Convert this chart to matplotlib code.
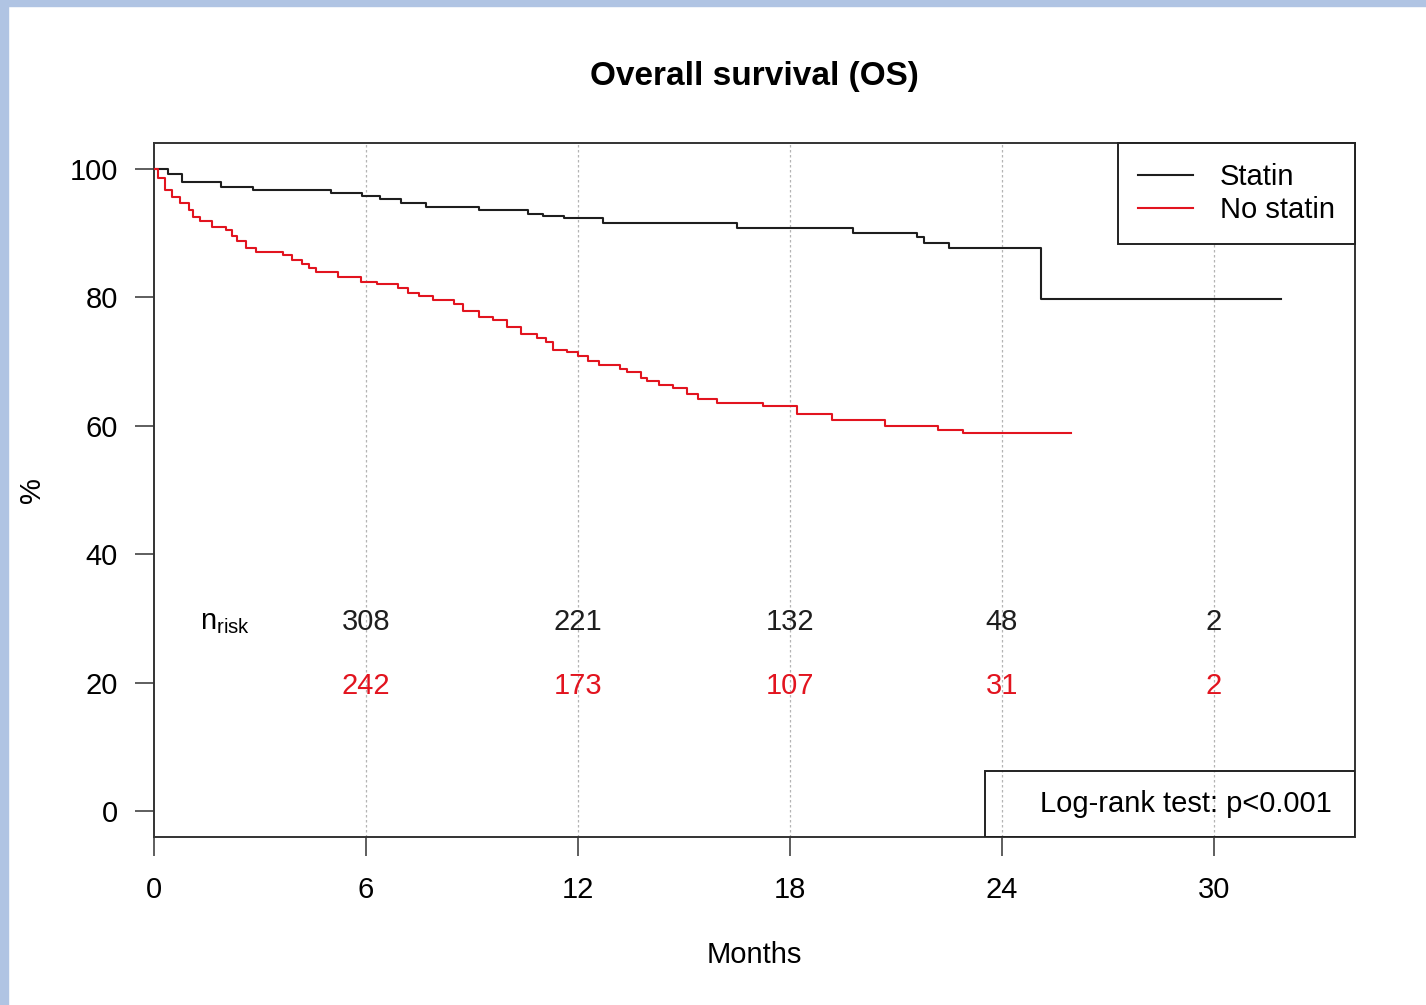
import numpy as np
import matplotlib
matplotlib.use('Agg')
from matplotlib import pyplot as plt
from matplotlib.patches import Rectangle

plt.rcParams['font.family'] = ['Liberation Sans', 'DejaVu Sans']

# Kaplan-Meier steps (months, % surviving)
t_statin = [0, 0.4, 0.8, 1.9, 2.8, 5.0, 5.9, 6.4, 7.0, 7.7, 9.2, 10.6, 11.0, 11.6,
            12.7, 16.5, 19.8, 21.6, 21.8, 22.5, 25.1, 31.9]
s_statin = [100, 99.1, 98.0, 97.2, 96.7, 96.2, 95.8, 95.3, 94.7, 94.1, 93.5, 93.0,
            92.7, 92.4, 91.6, 90.8, 90.0, 89.3, 88.5, 87.7, 79.8, 79.8]

t_nostatin = [0, 0.1, 0.3, 0.5, 0.75, 1.0, 1.1, 1.3, 1.65, 2.05, 2.2, 2.35, 2.6, 2.9,
              3.65, 3.9, 4.2, 4.4, 4.6, 5.2, 5.85, 6.3, 6.9, 7.2, 7.5, 7.9, 8.5, 8.75,
              9.2, 9.6, 10.0, 10.4, 10.85, 11.1, 11.3, 11.7, 12.0, 12.3, 12.6, 13.2,
              13.4, 13.8, 13.95, 14.3, 14.7, 15.1, 15.4, 15.95, 17.25, 18.2, 19.2,
              20.7, 22.2, 22.9, 25.95]
s_nostatin = [100, 98.5, 96.7, 95.6, 94.7, 93.5, 92.5, 91.8, 91.0, 90.5, 89.6, 88.8,
              87.7, 87.1, 86.5, 85.8, 85.2, 84.6, 84.0, 83.2, 82.4, 82.0, 81.5, 80.7,
              80.2, 79.6, 79.0, 77.8, 77.0, 76.5, 75.3, 74.2, 73.7, 73.1, 71.8, 71.4,
              70.8, 70.0, 69.5, 68.9, 68.3, 67.5, 66.9, 66.3, 65.8, 64.9, 64.1, 63.6,
              63.0, 61.9, 60.9, 60.0, 59.4, 58.8, 58.8]

risk_times = [6, 12, 18, 24, 30]
risk_statin = [308, 221, 132, 48, 2]
risk_nostatin = [242, 173, 107, 31, 2]
xticks = [0, 6, 12, 18, 24, 30]
yticks = [0, 20, 40, 60, 80, 100]

RED = '#e2141f'
BLK = '#1e1e1e'
FS = 21

fig = plt.figure(figsize=(14.26, 10.05), dpi=100)
fig.patch.set_facecolor('white')
# slide background strips
fig.add_artist(Rectangle((0, 0), 8/1426, 1, transform=fig.transFigure, color='#b0c4e3', zorder=0))
fig.add_artist(Rectangle((0, 1-6/1005), 1, 6/1005, transform=fig.transFigure, color='#b0c4e3', zorder=0))

ax = fig.add_axes([154/1426, 1-837/1005, (1355-154)/1426, (837-143)/1005])
ax.set_xlim(0, 34); ax.set_ylim(-4, 104)

for x in xticks[1:]:
    ax.axvline(x, color='#b4b4b4', lw=0.9, ls=(0, (2, 2)), zorder=1)

ax.step(t_statin, s_statin, where='post', color=BLK, lw=1.5, label='Statin', zorder=3)
ax.step(t_nostatin, s_nostatin, where='post', color=RED, lw=1.5, label='No statin', zorder=3)

ax.text(2, 30, r'$\mathregular{n_{risk}}$', fontsize=FS, ha='center', va='center_baseline')
for x, a, b in zip(risk_times, risk_statin, risk_nostatin):
    ax.text(x, 30, str(a), fontsize=FS, ha='center', va='center_baseline', color=BLK)
    ax.text(x, 20, str(b), fontsize=FS, ha='center', va='center_baseline', color=RED)

ax.set_xticks(xticks); ax.set_yticks(yticks)
ax.tick_params(direction='out', length=14, width=1.1, color='#333333', labelsize=FS, pad=12)
ax.tick_params(axis='x', pad=14)
for s in ax.spines.values():
    s.set_linewidth(1.4); s.set_color('#333333')

leg = ax.legend(loc='upper right', borderaxespad=0, fancybox=False, framealpha=1,
                edgecolor='#222222', fontsize=FS, handlelength=1.9, handletextpad=0.9,
                borderpad=0.7, labelspacing=0.15)
leg.get_frame().set_linewidth(1.4)
leg.set_zorder(5)

bx0 = (985-154)/1201; bh = (837-771)/694
ax.add_patch(Rectangle((bx0, 0), 1-bx0, bh, transform=ax.transAxes, fill=True,
                       facecolor='none', edgecolor='#222222', lw=1.4, zorder=4))
ax.text((1186-154)/1201, bh/2, 'Log-rank test: p<0.001', transform=ax.transAxes,
        fontsize=FS, ha='center', va='center', zorder=5)

fig.text(754/1426, 1-76/1005, 'Overall survival (OS)', fontsize=24, fontweight='bold',
         ha='center', va='center')
fig.text(754/1426, 1-955/1005, 'Months', fontsize=FS, ha='center', va='center')
fig.text(32/1426, 1-490/1005, '%', fontsize=FS, ha='center', va='center', rotation=90)

fig.savefig('out.png', dpi=100)
